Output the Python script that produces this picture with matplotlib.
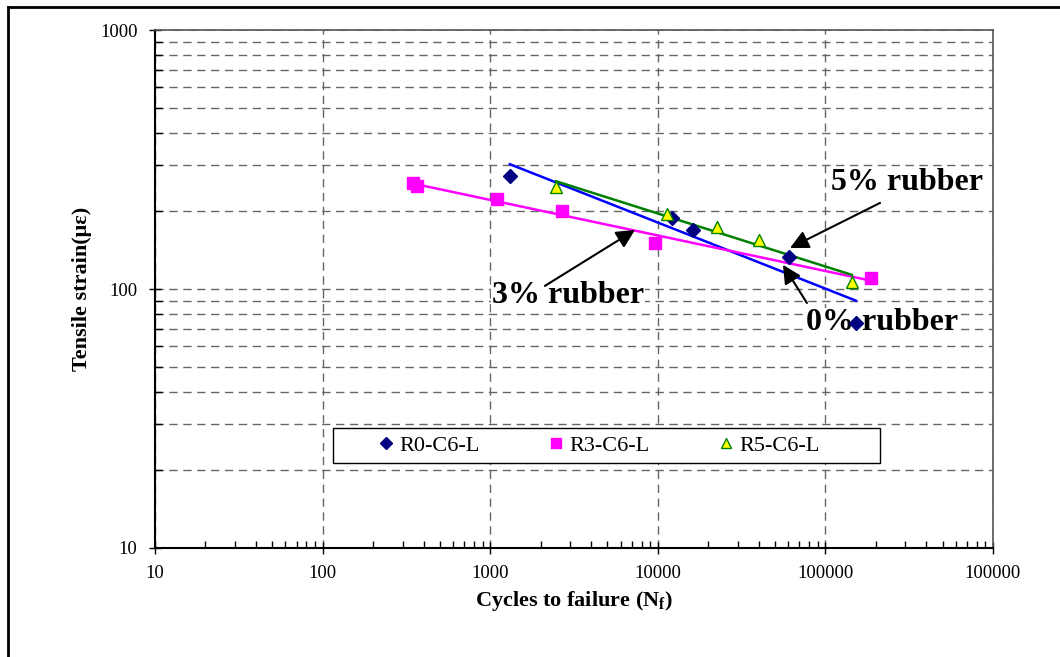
import numpy as np
import matplotlib
matplotlib.use("Agg")
from matplotlib import pyplot as plt
from matplotlib.lines import Line2D
from matplotlib.patches import Rectangle
from matplotlib.ticker import FixedLocator, FixedFormatter, NullFormatter, LogLocator

plt.rcParams['font.family'] = ['Liberation Serif', 'DejaVu Serif']
plt.rcParams['mathtext.fontset'] = 'custom'
plt.rcParams['mathtext.rm'] = 'Liberation Serif:bold'
plt.rcParams['mathtext.it'] = 'Liberation Serif:bold'
plt.rcParams['mathtext.default'] = 'rm'

# datos
r0_ciclos = [1310, 12200, 16200, 60700, 152000]
r0_def = [273, 188, 169, 133, 74]
r3_ciclos = [346, 366, 1100, 2680, 9620, 187000]
r3_def = [257, 250, 222, 200, 151, 110]
r5_ciclos = [2470, 11350, 22550, 40200, 144000]
r5_def = [248, 195, 173, 155, 106]

etiquetas = ["R0-C6-L", "R3-C6-L", "R5-C6-L"]
ticks_x = [10, 100, 1000, 10000, 100000, 1000000]
textos_x = ["10", "100", "1000", "10000", "100000", "100000"]
ticks_y = [10, 100, 1000]


def tendencia(x, y):
    # ajuste potencial (recta en log-log) entre el minimo y el maximo de x
    lx, ly = np.log10(x), np.log10(y)
    m, b = np.polyfit(lx, ly, 1)
    xs = np.array([min(x), max(x)])
    return xs, 10 ** (m * np.log10(xs) + b)


fig = plt.figure(figsize=(10.6, 6.57), dpi=100)
ax = fig.add_axes([155 / 1060, 109 / 657, 838 / 1060, 518 / 657])
ax.set_xscale('log')
ax.set_yscale('log')
ax.set_xlim(10, 1e6)
ax.set_ylim(10, 1000)

# rejilla
for t in ticks_x:
    ax.axvline(t, color='#666666', lw=1, ls=(0, (6, 4)), zorder=1)
for d in [10, 100]:
    for k in range(1, 10):
        v = d * k
        if 10 < v < 1000 or v == 100:
            ax.axhline(v, color='#666666', lw=1, ls=(0, (6, 4)), zorder=1)
ax.axhline(1000, color='#666666', lw=1.2, ls=(0, (6, 4)), zorder=1)

series = [
    (r0_ciclos, r0_def, 'D', '#000080', '#000080', 7, '#0000FF'),
    (r3_ciclos, r3_def, 's', '#FF00FF', '#FF00FF', 8.5, '#FF00FF'),
    (r5_ciclos, r5_def, '^', '#FFFF00', '#008000', 8.5, '#008000'),
]
handles = []
for (x, y, mk, fc, ec, ms, lc), lab in zip(series, etiquetas):
    h, = ax.plot(x, y, ls='none', marker=mk, mfc=fc, mec=ec, ms=ms, mew=1,
                 zorder=5, label=lab)
    handles.append(h)
    xs, ys = tendencia(x, y)
    ax.plot(xs, ys, color=lc, lw=1.8, zorder=4)

# textos y flechas
caja = dict(facecolor='white', edgecolor='none', pad=0.5)
ax.text(307000, 257, "5% rubber", fontsize=23, fontweight='bold', ha='center',
        va='center', bbox=caja, zorder=3)
ax.text(218000, 74, "0% rubber", fontsize=23, fontweight='bold', ha='center',
        va='center', bbox=caja, zorder=3)
ax.text(2910, 94, "3% rubber", fontsize=23, fontweight='bold', ha='center',
        va='center', bbox=caja, zorder=3)
flecha = dict(arrowstyle='-|>', color='black', lw=1.5, mutation_scale=28,
              shrinkA=0, shrinkB=0)
ax.annotate('', xy=(61500, 144), xytext=(212000, 215), arrowprops=flecha, zorder=6)
ax.annotate('', xy=(55800, 124), xytext=(77600, 88.3), arrowprops=flecha, zorder=6)
ax.annotate('', xy=(7310, 169), xytext=(2120, 102.8), arrowprops=flecha, zorder=6)

# ejes
ax.xaxis.set_major_locator(FixedLocator(ticks_x))
ax.xaxis.set_major_formatter(FixedFormatter(textos_x))
ax.xaxis.set_minor_locator(LogLocator(base=10, subs=np.arange(2, 10)))
ax.xaxis.set_minor_formatter(NullFormatter())
ax.yaxis.set_major_locator(FixedLocator(ticks_y))
ax.yaxis.set_major_formatter(FixedFormatter([str(t) for t in ticks_y]))
ax.yaxis.set_minor_locator(LogLocator(base=10, subs=np.arange(2, 10)))
ax.yaxis.set_minor_formatter(NullFormatter())
ax.tick_params(which='major', direction='inout', length=9, width=1,
               labelsize=13.5, pad=8)
ax.tick_params(which='minor', direction='in', length=5, width=1)
for s in ['left', 'bottom']:
    ax.spines[s].set_linewidth(1.5)
    ax.spines[s].set_color('black')
for s in ['top', 'right']:
    ax.spines[s].set_linewidth(1.2)
    ax.spines[s].set_color('#555555')

ax.set_xlabel("Cycles to failure (N$_f$)", fontsize=16, fontweight='bold', labelpad=5)
ax.set_ylabel("Tensile strain(\u03bc\u03b5)", fontsize=16, fontweight='bold', labelpad=6)

# leyenda: marco aparte y entradas centradas
ax.add_patch(Rectangle((178 / 838, 85 / 518), 547 / 838, 35 / 518,
                       transform=ax.transAxes, facecolor='white',
                       edgecolor='black', lw=1, zorder=7))
leg = ax.legend(handles=handles, loc='center', ncol=3,
                bbox_to_anchor=(442 / 838, 102.5 / 518),
                fontsize=16, frameon=False, borderaxespad=0, borderpad=0,
                handletextpad=0.1, markerscale=0.9, handlelength=1.0,
                columnspacing=2.95)
leg.set_zorder(8)

# marco exterior
fig.add_artist(Line2D([8 / 1060, 8 / 1060], [0, 1 - 7 / 657], color='black', lw=2))
fig.add_artist(Line2D([8 / 1060, 1], [1 - 7 / 657, 1 - 7 / 657], color='black', lw=2))

fig.savefig("out.png", dpi=100)
